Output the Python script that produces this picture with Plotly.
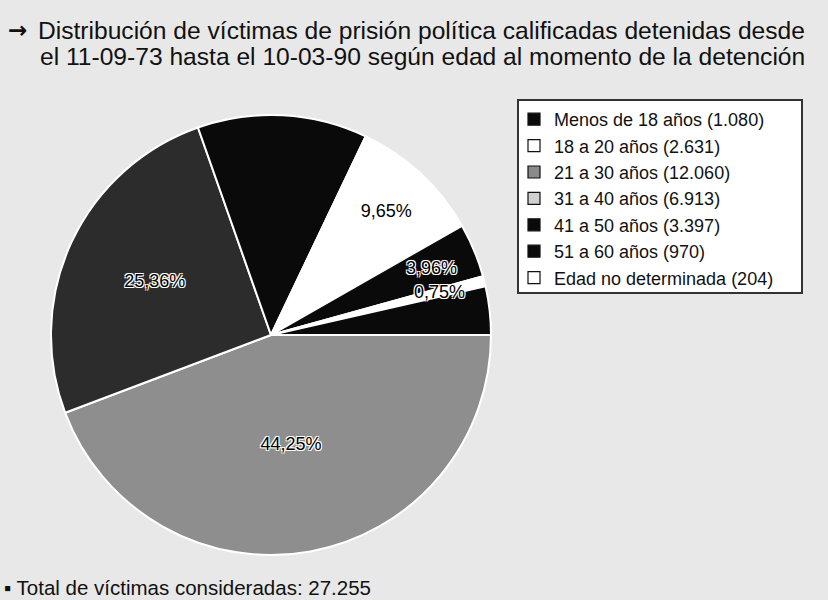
import math
import plotly.graph_objects as go

# ---- data (legend order) ----
labels = ["Menos de 18 años", "18 a 20 años", "21 a 30 años", "31 a 40 años",
          "41 a 50 años", "51 a 60 años", "Edad no determinada"]
values = [1080, 2631, 12060, 6913, 3397, 970, 204]
slice_colors = ["#0a0a0a", "#ffffff", "#8e8e8e", "#2c2c2c", "#0a0a0a", "#0a0a0a", "#ffffff"]
legend_colors = ["#0a0a0a", "#ffffff", "#8a8a8a", "#d0d0d0", "#0a0a0a", "#0a0a0a", "#ffffff"]
# how each slice's percentage label is shown: "pie" (native), "ann" (annotation), None (hidden)
label_mode = ["ann", "pie", "pie", "pie", None, None, "ann"]
# order of slices clockwise from 3 o'clock
slice_order = [2, 3, 4, 1, 0, 6, 5]

title_line1 = "Distribución de víctimas de prisión política calificadas detenidas desde"
title_line2 = "el 11-09-73 hasta el 10-03-90 según edad al momento de la detención"

FONT = "Liberation Sans, Arial, sans-serif"
SHADOW = "-1px -1px 0 white, 1px -1px 0 white, -1px 1px 0 white, 1px 1px 0 white"
W, H = 828, 600
PIE_X = (51 / W, 491 / W)
PIE_Y = (45 / H, 485 / H)
ANN_R = 0.79  # fraction of radius for annotated thin-slice labels


def miles(n):
    return f"{n:,}".replace(",", ".")


total = sum(values)
pct = [f"{v / total * 100:.2f}".replace(".", ",") + "%" for v in values]

fig = go.Figure()

fig.add_trace(go.Pie(
    labels=[labels[i] for i in slice_order],
    values=[values[i] for i in slice_order],
    text=[pct[i] if label_mode[i] == "pie" else "" for i in slice_order],
    textinfo="text",
    textposition="inside",
    insidetextorientation="horizontal",
    sort=False,
    direction="clockwise",
    rotation=90,
    marker=dict(colors=[slice_colors[i] for i in slice_order],
                line=dict(color="white", width=2)),
    textfont=dict(family=FONT, size=18, color="black", shadow=SHADOW),
    domain=dict(x=list(PIE_X), y=list(PIE_Y)),
    showlegend=False,
    hoverinfo="label+value+percent",
))

# labels for the thin slices, placed at each slice's mid-angle
cx = (PIE_X[0] + PIE_X[1]) / 2          # paper coords
cy = (PIE_Y[0] + PIE_Y[1]) / 2
r_px = (PIE_X[1] - PIE_X[0]) * W / 2
annotations = []
cum = 0
for i in slice_order:
    frac = values[i] / total
    if label_mode[i] == "ann":
        mid = (cum + frac / 2) * 2 * math.pi  # clockwise from 3 o'clock
        annotations.append(dict(
            text=pct[i],
            x=cx + ANN_R * r_px * math.cos(mid) / W,
            y=cy - ANN_R * r_px * math.sin(mid) / H,
            xref="paper", yref="paper", xanchor="center", yanchor="middle",
            showarrow=False,
            font=dict(family=FONT, size=18, color="black", shadow=SHADOW)))
    cum += frac

for lab, val, col in zip(labels, values, legend_colors):
    fig.add_trace(go.Scatter(
        x=[None], y=[None], mode="markers", name=f"{lab} ({miles(val)})",
        marker=dict(symbol="square", size=12, color=col,
                    line=dict(color="#111111", width=1.2)),
        showlegend=True,
    ))

annotations += [
    dict(text="<b>→</b>", x=6 / W, y=1 - 30 / H, xref="paper", yref="paper",
         xanchor="left", yanchor="middle", showarrow=False,
         font=dict(family="DejaVu Sans", size=23, color="#111111")),
    dict(text=title_line1, x=36 / W, y=1 - 31 / H, xref="paper", yref="paper",
         xanchor="left", yanchor="middle", showarrow=False,
         font=dict(family=FONT, size=24.6, color="#111111")),
    dict(text=title_line2, x=38 / W, y=1 - 57 / H, xref="paper", yref="paper",
         xanchor="left", yanchor="middle", showarrow=False,
         font=dict(family=FONT, size=24.6, color="#111111")),
    dict(text="▪ Total de víctimas consideradas: " + miles(total),
         x=2 / W, y=1 - 587 / H, xref="paper", yref="paper",
         xanchor="left", yanchor="middle", showarrow=False,
         font=dict(family=FONT, size=20.5, color="#111111")),
]

fig.update_layout(
    width=W, height=H,
    margin=dict(l=0, r=0, t=0, b=0),
    paper_bgcolor="#e8e8e8",
    plot_bgcolor="#e8e8e8",
    xaxis=dict(visible=False),
    yaxis=dict(visible=False),
    font=dict(family=FONT, color="#111111"),
    legend=dict(
        x=514 / W, y=1 - 101 / H, xanchor="left", yanchor="top",
        bgcolor="rgba(0,0,0,0)", borderwidth=0,
        font=dict(family=FONT, size=18, color="#111111"),
        itemwidth=30, traceorder="normal",
    ),
    shapes=[dict(type="rect", xref="paper", yref="paper",
                 x0=518 / W, x1=802 / W, y0=1 - 293 / H, y1=1 - 100 / H,
                 fillcolor="white", line=dict(color="#333333", width=2),
                 layer="below")],
    annotations=annotations,
)

fig.write_html("out.html", config={"displayModeBar": False},
               post_script="document.body.style.margin='0';document.body.style.overflow='hidden';")
